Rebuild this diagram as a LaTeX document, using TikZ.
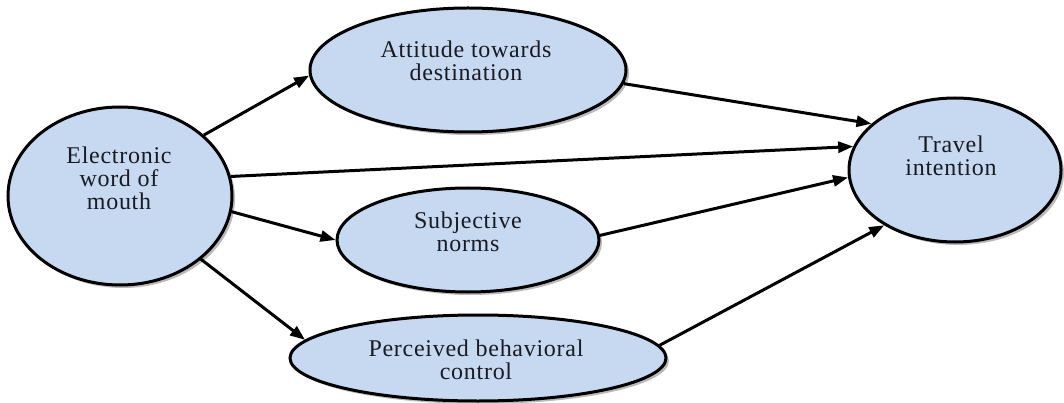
\documentclass[tikz,border=0pt]{standalone}
\usepackage{fontspec}
\setmainfont{Liberation Serif}[LetterSpace=3]
\usetikzlibrary{shapes.geometric,arrows.meta,shadows}
\definecolor{ellfill}{HTML}{C6D9F1}
\definecolor{txt}{HTML}{1A1A22}
\tikzset{
  ell/.style={ellipse, draw=black, line width=3pt, fill=ellfill, inner sep=0pt,
    drop shadow={shadow xshift=3pt, shadow yshift=-3pt, fill=black!45, opacity=0.6}},
  lbl/.style={align=center, text=txt, font=\fontsize{24pt}{23pt}\selectfont, inner sep=0pt},
  arr/.style={line width=3pt, -{Triangle[length=15pt,width=11pt]}}
}
\begin{document}
\begin{tikzpicture}[x=1pt,y=-1pt]
\useasboundingbox (0,0) rectangle (1064,403);
\node[ell, minimum width=224pt, minimum height=178pt] (ewom) at (120,196) {};
\node[ell, minimum width=316pt, minimum height=124pt] (att) at (468,70) {};
\node[ell, minimum width=262pt, minimum height=104pt] (sub) at (468,240) {};
\node[ell, minimum width=376pt, minimum height=86pt] (pbc) at (478,358) {};
\node[ell, minimum width=212pt, minimum height=144pt] (ti) at (955,170) {};
\node[lbl] (ewomt) at (119,178) {Electronic\\word of\\mouth};
\node[lbl] (attt) at (466,61) {Attitude towards\\destination};
\node[lbl] (subt) at (468,232) {Subjective\\norms};
\node[lbl] (pbct) at (476,360) {Perceived behavioral\\control};
\node[lbl] (tit) at (951,156) {Travel\\intention};
\draw[arr] (ewom.36) -- (att.182);
\draw[arr] (ewom.10) -- (ti.167);
\draw[arr] (ewom.-8) -- (sub.180);
\draw[arr] (ewom.-38) -- (pbc.174);
\draw[arr] (att.-5) -- (ti.151);
\draw[arr] (sub.2) -- (ti.184);
\draw[arr] (pbc.4) -- (ti.218);
\end{tikzpicture}
\end{document}
